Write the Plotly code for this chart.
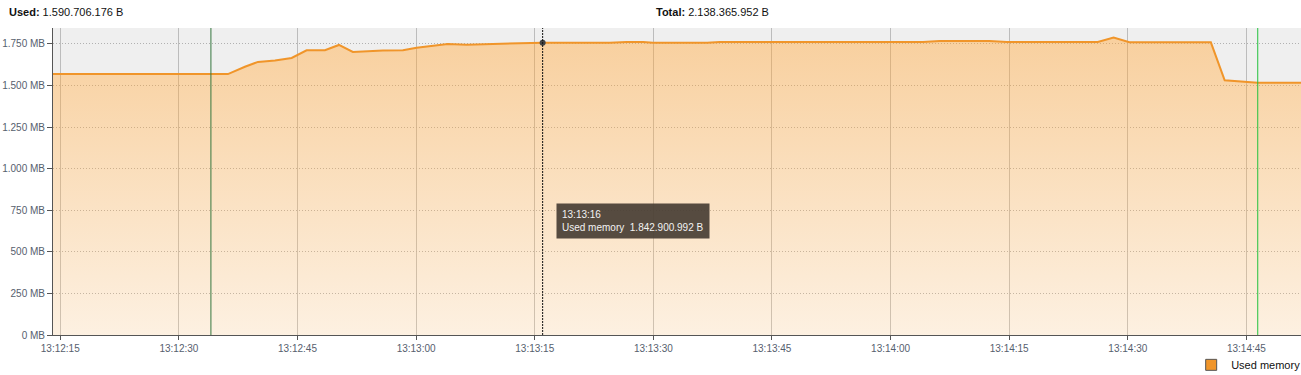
import plotly.graph_objects as go

BASE_DATE = "2024-01-01 "

# ---- data ----
sample_times = [
    "13:12:14.08", "13:12:36.2", "13:12:38.35", "13:12:40.0", "13:12:42.15",
    "13:12:44.26", "13:12:46.15", "13:12:48.47", "13:12:50.24", "13:12:52.0",
    "13:12:55.8", "13:12:58.33", "13:13:00.06", "13:13:02.1", "13:13:04.0",
    "13:13:06.4", "13:13:10.6", "13:13:16", "13:13:24.5", "13:13:26.6",
    "13:13:28.7", "13:13:29.95", "13:13:36.8", "13:13:38.4", "13:14:04.1",
    "13:14:06.2", "13:14:12.5", "13:14:14.7", "13:14:26.2", "13:14:28.2",
    "13:14:30.2", "13:14:40.5", "13:14:42.25", "13:14:46.4", "13:14:51.9",
]
used_mb = [
    1569, 1569, 1613, 1642, 1650,
    1666, 1712, 1712, 1744, 1702,
    1710, 1712, 1727, 1738, 1750,
    1746, 1750, 1757.5, 1757, 1762,
    1762, 1757, 1757, 1762, 1762,
    1768, 1768, 1762, 1762, 1788,
    1760, 1760, 1532, 1517, 1517,
]

y_tick_vals = [0, 250, 500, 750, 1000, 1250, 1500, 1750]
y_tick_text = ["0 MB", "250 MB", "500 MB", "750 MB", "1.000 MB", "1.250 MB", "1.500 MB", "1.750 MB"]

x_start = "13:12:14.08"
x_end = "13:14:51.9"
y_max = 1846

marker_times = ["13:12:34.05", "13:14:46.43"]
marker_colors = ["#35773f", "#22c23e"]

tooltip_index = 17
tooltip_time = "13:13:16"
tooltip_bytes = "1.842.900.992 B"

used_label = "1.590.706.176 B"
total_label = "2.138.365.952 B"
series_name = "Used memory"

# ---- figure ----
xs = [BASE_DATE + t for t in sample_times]

fig = go.Figure()

# used memory area with vertical gradient
fig.add_trace(go.Scatter(
    x=xs, y=used_mb, mode="lines",
    line=dict(color="#F0952A", width=2),
    fill="tozeroy",
    fillgradient=dict(
        type="vertical",
        colorscale=[[0, "rgba(240,150,40,0.14)"], [1, "rgba(240,150,40,0.45)"]],
        start=0, stop=max(used_mb),
    ),
    showlegend=False, hoverinfo="skip",
))

# gray band above the line up to the top of the plot
fig.add_trace(go.Scatter(
    x=xs, y=[y_max] * len(xs), mode="lines",
    line=dict(width=0, color="rgba(0,0,0,0)"),
    fill="tonexty", fillcolor="rgba(0,0,0,0.063)",
    showlegend=False, hoverinfo="skip",
))

# marker lines (vertical)
for t, c in zip(marker_times, marker_colors):
    fig.add_shape(type="line", x0=BASE_DATE + t, x1=BASE_DATE + t, xref="x",
                  y0=0, y1=1, yref="paper", line=dict(color=c, width=1), layer="above")

# hover cursor line + point
hx = xs[tooltip_index]
fig.add_shape(type="line", x0=hx, x1=hx, xref="x", y0=0, y1=1, yref="paper",
              line=dict(color="#111111", width=1, dash="2px,1px"), layer="above")
fig.add_trace(go.Scatter(
    x=[hx], y=[used_mb[tooltip_index]], mode="markers",
    marker=dict(color="#444444", size=6), showlegend=False, hoverinfo="skip",
))

# tooltip
fig.add_annotation(
    x=hx, y=used_mb[tooltip_index], xref="x", yref="y",
    xanchor="left", yanchor="top", xshift=13, yshift=-160, showarrow=False,
    align="left",
    text=tooltip_time + "<br>" + series_name + "\u00a0\u00a0" + tooltip_bytes,
    font=dict(family="Liberation Sans, Arial, sans-serif", size=10, color="#F2F2F2"),
    bgcolor="rgba(72,62,52,0.92)", borderpad=5,
)

# header labels
hdr_font = dict(family="Liberation Sans, Arial, sans-serif", size=11, color="#111111")
fig.add_annotation(x=0, y=1, xref="paper", yref="paper", xshift=-46, yshift=16,
                   xanchor="left", yanchor="middle", showarrow=False,
                   text="<b>Used:</b> " + used_label, font=hdr_font)
fig.add_annotation(x=0, y=1, xref="paper", yref="paper", xshift=601, yshift=16,
                   xanchor="left", yanchor="middle", showarrow=False,
                   text="<b>Total:</b> " + total_label, font=hdr_font)

# legend entry
fig.add_trace(go.Scatter(
    x=[None], y=[None], mode="markers", name=series_name,
    marker=dict(symbol="square", size=11, color="#F0952A", line=dict(color="#555555", width=1)),
))

tick_font = dict(family="Liberation Sans, Arial, sans-serif", size=10, color="#56606e")

fig.update_layout(
    width=1301, height=375,
    margin=dict(l=53, r=0, t=28, b=40, autoexpand=False),
    paper_bgcolor="white", plot_bgcolor="white",
    showlegend=True,
    legend=dict(x=0.912, y=-0.05, xanchor="left", yanchor="top",
                font=dict(family="Liberation Sans, Arial, sans-serif", size=11, color="#111111"),
                bgcolor="rgba(0,0,0,0)", itemwidth=30),
    xaxis=dict(
        type="date", range=[BASE_DATE + x_start, BASE_DATE + x_end],
        tickformat="%H:%M:%S", dtick=15000, tick0=BASE_DATE + "13:12:15",
        showgrid=True, gridcolor="#c9c9c9", gridwidth=1,
        showline=True, linecolor="#555555", linewidth=1,
        ticks="outside", ticklen=4, tickcolor="#555555",
        tickfont=tick_font, zeroline=False,
    ),
    yaxis=dict(
        range=[0, y_max],
        tickvals=y_tick_vals, ticktext=y_tick_text,
        showgrid=True, gridcolor="#bdbdbd", gridwidth=1, griddash="1px,2px",
        showline=True, linecolor="#555555", linewidth=1,
        ticks="outside", ticklen=5, tickcolor="#555555",
        tickfont=tick_font, zeroline=False,
    ),
    hovermode=False,
)

fig.write_html("out.html")
